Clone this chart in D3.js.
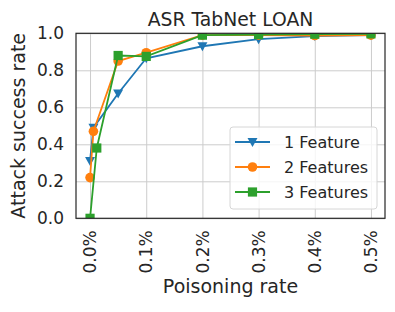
<!DOCTYPE html>
<head>
  <meta charset="utf-8">
  <script src="https://d3js.org/d3.v7.min.js"></script>
  <style>
    body { margin: 0; background: #fff; }
    text { font-family: "DejaVu Sans", sans-serif; fill: #262626; }
    .grid line { stroke: #cccccc; stroke-width: 1; }
    .grid path { display: none; }
    .line { fill: none; stroke-width: 1.8px; }
  </style>
</head>
<body>
<svg id="chart" width="395" height="312"></svg>
<script>
  // values (x in %)
  var seriesNames = ["1 Feature", "2 Features", "3 Features"];
  var colors = ["#1f77b4", "#ff7f0e", "#2ca02c"];
  var shapes = ["triangleDown", "circle", "square"];
  var xOne = [0, 0.006, 0.05, 0.1, 0.2, 0.3, 0.4, 0.5];
  var yOne = [0.31, 0.49, 0.675, 0.865, 0.93, 0.968, 0.985, 0.99];
  var xTwo = [0, 0.006, 0.05, 0.1, 0.2, 0.3, 0.4, 0.5];
  var yTwo = [0.22, 0.47, 0.85, 0.895, 0.99, 0.99, 0.988, 0.99];
  var xThree = [0, 0.012, 0.05, 0.1, 0.2, 0.3, 0.4, 0.5];
  var yThree = [0.0, 0.38, 0.88, 0.875, 0.99, 0.993, 0.995, 0.997];
  var xTicks = [0, 0.1, 0.2, 0.3, 0.4, 0.5];
  var yTicks = [0, 0.2, 0.4, 0.6, 0.8, 1.0];

  var series = [
    { name: seriesNames[0], xs: xOne, ys: yOne },
    { name: seriesNames[1], xs: xTwo, ys: yTwo },
    { name: seriesNames[2], xs: xThree, ys: yThree }
  ];

  var svg = d3.select("#chart"),
    margin = { top: 33.3, right: 10, bottom: 93.7, left: 76 },
    W = 395, H = 312;

  var x = d3.scaleLinear().domain([-0.025, 0.525]).range([margin.left, W - margin.right]);
  var y = d3.scaleLinear().domain([0, 1]).range([H - margin.bottom, margin.top]);

  var fmtX = d3.format(".1f"), fmtY = d3.format(".1f");

  // grid
  svg.append("g").attr("class", "grid")
    .attr("transform", "translate(0," + y(0) + ")")
    .call(d3.axisBottom(x).tickValues(xTicks).tickSize(-(y(0) - y(1))).tickFormat(""));
  svg.append("g").attr("class", "grid")
    .attr("transform", "translate(" + x.range()[0] + ",0)")
    .call(d3.axisLeft(y).tickValues(yTicks).tickSize(-(x.range()[1] - x.range()[0])).tickFormat(""));

  // tick labels
  svg.append("g").selectAll("text").data(yTicks).join("text")
    .attr("x", x.range()[0] - 12)
    .attr("y", d => y(d))
    .attr("dy", "0.36em")
    .attr("text-anchor", "end")
    .attr("font-size", 17)
    .text(d => fmtY(d));

  svg.append("g").selectAll("text").data(xTicks).join("text")
    .attr("transform", d => "translate(" + x(d) + "," + (y(0) + 12) + ") rotate(-90)")
    .attr("dy", "0.36em")
    .attr("text-anchor", "end")
    .attr("font-size", 17)
    .text(d => fmtX(d) + "%");

  svg.append("text")
    .attr("x", (x.range()[0] + x.range()[1]) / 2)
    .attr("y", 293)
    .attr("text-anchor", "middle")
    .attr("font-size", 19)
    .text("Poisoning rate");

  svg.append("text")
    .attr("transform", "translate(25," + (y(0) + y(1)) / 2 + ") rotate(-90)")
    .attr("text-anchor", "middle")
    .attr("font-size", 19)
    .text("Attack success rate");

  svg.append("text")
    .attr("x", (x.range()[0] + x.range()[1]) / 2)
    .attr("y", 26)
    .attr("text-anchor", "middle")
    .attr("font-size", 18.8)
    .text("ASR TabNet LOAN");

  svg.append("clipPath").attr("id", "clip")
    .append("rect")
    .attr("x", x.range()[0]).attr("y", y(1))
    .attr("width", x.range()[1] - x.range()[0])
    .attr("height", y(0) - y(1));

  function marker(g, shape, color) {
    if (shape === "circle") {
      g.append("circle").attr("r", 4.8).attr("fill", color);
    } else if (shape === "square") {
      g.append("rect").attr("x", -4.6).attr("y", -4.6).attr("width", 9.2).attr("height", 9.2).attr("fill", color);
    } else {
      g.append("path").attr("d", "M-5,-4L5,-4L0,5Z").attr("fill", color);
    }
  }

  var line = d3.line().x(d => x(d[0])).y(d => y(d[1]));
  var plot = svg.append("g").attr("clip-path", "url(#clip)");

  series.forEach(function (s, i) {
    var pts = s.xs.map((v, j) => [v, s.ys[j]]);
    plot.append("path").attr("class", "line")
      .attr("stroke", colors[i])
      .attr("d", line(pts));
    pts.forEach(function (p) {
      var g = plot.append("g").attr("transform", "translate(" + x(p[0]) + "," + y(p[1]) + ")");
      marker(g, shapes[i], colors[i]);
    });
  });

  // frame
  svg.append("rect")
    .attr("x", x.range()[0]).attr("y", y(1))
    .attr("width", x.range()[1] - x.range()[0])
    .attr("height", y(0) - y(1))
    .attr("fill", "none").attr("stroke", "#262626").attr("stroke-width", 1.2);

  // legend
  var legend = svg.append("g");
  legend.append("rect")
    .attr("x", 230).attr("y", 127).attr("width", 147).attr("height", 82)
    .attr("rx", 3)
    .attr("fill", "#fff").attr("fill-opacity", 0.8)
    .attr("stroke", "#d6d6d6");

  series.forEach(function (s, i) {
    var row = legend.append("g").attr("transform", "translate(0," + (142 + i * 25) + ")");
    row.append("line").attr("x1", 235).attr("x2", 270)
      .attr("stroke", colors[i]).attr("stroke-width", 1.8);
    var g = row.append("g").attr("transform", "translate(252.5,0)");
    marker(g, shapes[i], colors[i]);
    row.append("text").attr("x", 284).attr("dy", "0.36em")
      .attr("font-size", 16).text(s.name);
  });
</script>
</body>
